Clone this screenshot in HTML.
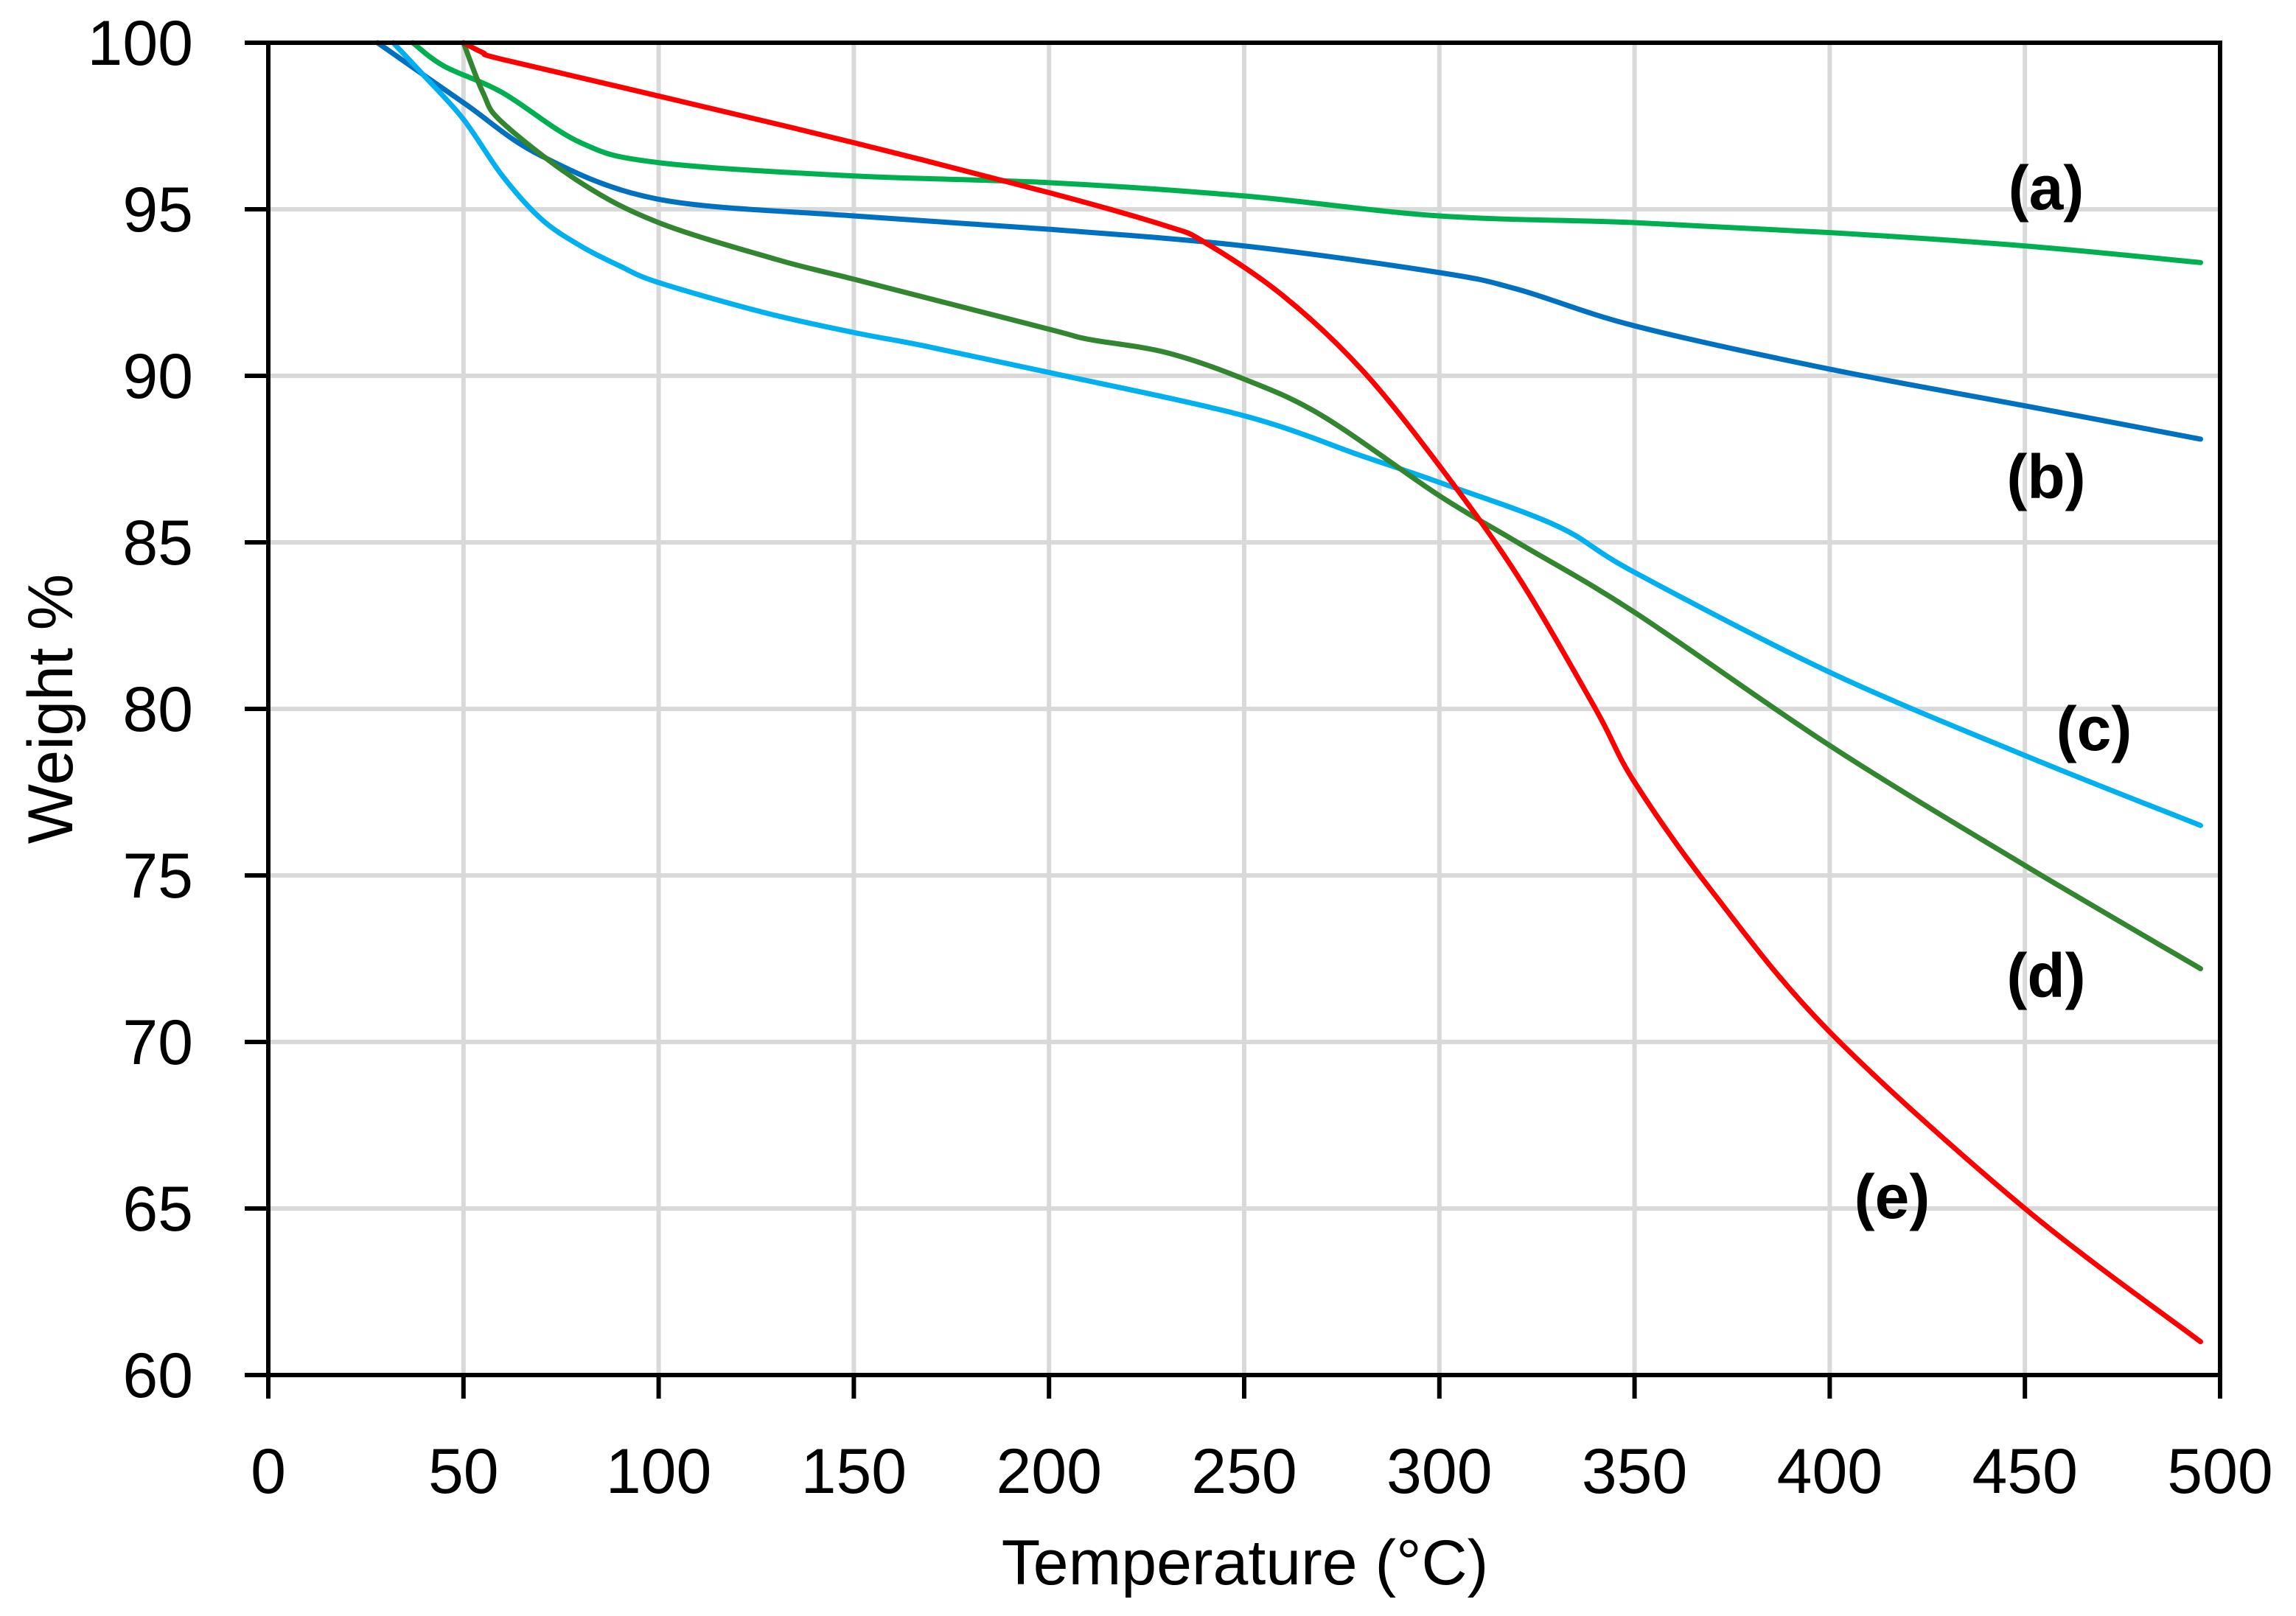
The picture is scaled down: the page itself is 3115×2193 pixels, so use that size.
<!DOCTYPE html>
<html><head><meta charset="utf-8"><style>
html,body{margin:0;padding:0;background:#fff;}
svg{display:block;font-family:"Liberation Sans",sans-serif;}
</style></head><body>
<svg id="chart" width="3115" height="2193" viewBox="0 0 3115 2193">
<g id="grid"></g>
<g id="series"></g>
<g id="axes"></g>
<g id="labels"></g>
<text x="1689" y="2150" font-size="86" text-anchor="middle" fill="#000">Temperature (°C)</text>
<text x="0" y="0" font-size="86" text-anchor="middle" fill="#000" transform="translate(98,962) rotate(-90)">Weight %</text>
</svg>
<script>
const xTicks = [0,50,100,150,200,250,300,350,400,450,500];
const yTicks = [60,65,70,75,80,85,90,95,100];
const seriesNames = ["(a)","(b)","(c)","(d)","(e)"];
const seriesColors = ["#00B050","#0070C0","#00B0F0","#31862F","#FF0000"];
const aT = [37,45,60,80,100,150,200,250,300,350,400,450,495];
const aW = [100,99.3,98.5,97,96.4,96.0,95.8,95.4,94.8,94.6,94.3,93.9,93.4];
const bT = [28,50,70,100,150,200,250,300,320,350,400,450,495];
const bW = [100,98.2,96.6,95.3,94.8,94.4,93.9,93.1,92.6,91.5,90.2,89.1,88.1];
const cT = [32,40,50,60,70,80,90,100,127,150,168,200,250,280,300,330,350,400,450,495];
const cW = [100,99,97.7,96.0,94.7,93.9,93.3,92.8,91.9,91.3,90.9,90.1,88.8,87.6,86.8,85.5,84.1,81.1,78.6,76.5];
const dT = [50,55,60,80,100,130,150,200,210,230,250,270,300,320,350,400,450,495];
const dW = [100,98.5,97.6,95.8,94.6,93.5,92.9,91.4,91.1,90.7,89.9,88.8,86.4,85.0,82.9,78.9,75.3,72.2];
const eT = [50,55,60,100,150,200,230,240,260,280,300,320,340,350,370,400,450,495];
const eW = [100,99.7,99.5,98.4,97.0,95.5,94.5,94.0,92.4,90.2,87.3,84.0,80.0,77.8,74.5,70.3,65.0,61.0];
const labelPos = [[2776,254],[2776,646],[2841,988],[2776,1323],[2567,1623]];

const X0=364,X1=3012,Y0=1866,Y1=58;
const sx=v=>X0+(v-0)/(500-0)*(X1-X0);
const sy=v=>Y0-(v-60)/(100-60)*(Y0-Y1);
const NS="http://www.w3.org/2000/svg";
function mk(tag,attrs,parent){const e=document.createElementNS(NS,tag);for(const k in attrs)e.setAttribute(k,attrs[k]);parent.appendChild(e);return e;}
const grid=document.getElementById('grid'),axes=document.getElementById('axes'),ser=document.getElementById('series'),lab=document.getElementById('labels');
xTicks.forEach(t=>{
  if(t>0&&t<500){const g=mk('line',{x1:sx(t),x2:sx(t),y1:Y1,y2:Y0,stroke:'#D9D9D9','stroke-width':6},grid);
  
  }
  const tk=mk('line',{x1:sx(t),x2:sx(t),y1:Y0,y2:Y0+32,stroke:'#000','stroke-width':6},axes);
  
  
  const tx=mk('text',{x:sx(t),y:2026,'font-size':86,'text-anchor':'middle',fill:'#000'},axes);
  tx.textContent=t;
  
  
});
yTicks.forEach(t=>{
  if(t>60&&t<100){const g=mk('line',{x1:X0,x2:X1,y1:sy(t),y2:sy(t),stroke:'#D9D9D9','stroke-width':6},grid);
  
  }
  const tk=mk('line',{x1:X0-32,x2:X0,y1:sy(t),y2:sy(t),stroke:'#000','stroke-width':6},axes);
  
  
  const tx=mk('text',{x:262,y:sy(t)+30,'font-size':86,'text-anchor':'end',fill:'#000'},axes);
  tx.textContent=t;
  
  
});
const frame=mk('rect',{x:X0,y:Y1,width:X1-X0,height:Y0-Y1,fill:'none',stroke:'#000','stroke-width':6},axes);


function smooth(pts){
  let d='M'+pts[0][0]+','+pts[0][1];
  for(let i=0;i<pts.length-1;i++){
    const p0=pts[i-1]||pts[i],p1=pts[i],p2=pts[i+1],p3=pts[i+2]||p2;
    const c1=[p1[0]+(p2[0]-p0[0])/6,p1[1]+(p2[1]-p0[1])/6];
    const c2=[p2[0]-(p3[0]-p1[0])/6,p2[1]-(p3[1]-p1[1])/6];
    d+=' C'+c1[0]+','+c1[1]+' '+c2[0]+','+c2[1]+' '+p2[0]+','+p2[1];
  }
  return d;
}
const allT=[aT,bT,cT,dT,eT],allW=[aW,bW,cW,dW,eW];
const keys=['a','b','c','d','e'];
allT.forEach((T,i)=>{
  const pts=T.map((t,j)=>[sx(t),sy(allW[i][j])]);
  const p=mk('path',{d:smooth(pts),fill:'none',stroke:seriesColors[i],'stroke-width':7,'stroke-linecap':'round','stroke-linejoin':'round'},ser);
  
  
  const l=mk('text',{x:labelPos[i][0],y:labelPos[i][1]+30,'font-size':84,'font-weight':'bold','text-anchor':'middle',fill:'#000'},lab);
  l.textContent=seriesNames[i];
  
  
});
</script>
</body></html>
